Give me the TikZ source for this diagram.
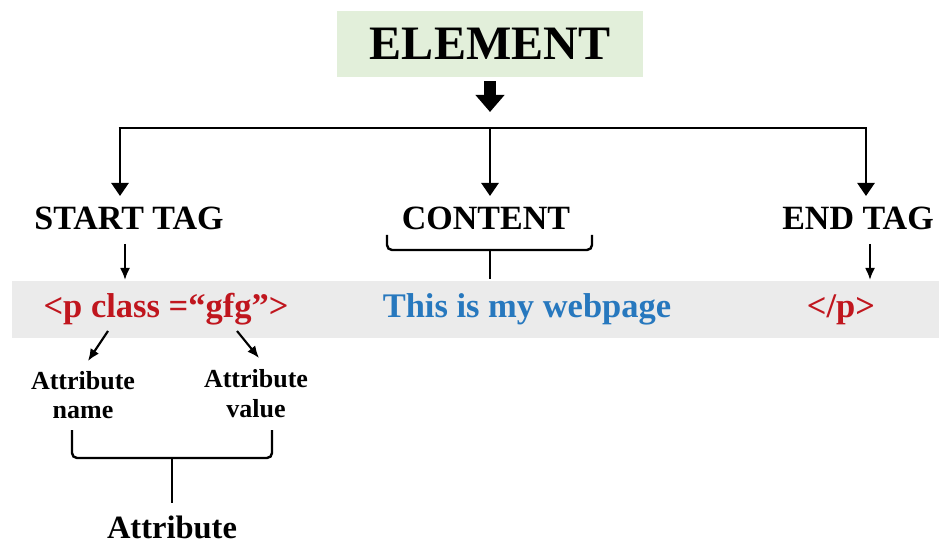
\documentclass[tikz,border=0pt]{standalone}
\usepackage{fontspec}
\setmainfont{Liberation Serif}
\usetikzlibrary{arrows.meta}
\definecolor{boxgreen}{HTML}{E2EFDA}
\definecolor{bandgray}{HTML}{EBEBEB}
\definecolor{tagred}{HTML}{C0161E}
\definecolor{textblue}{HTML}{2778BE}
\tikzset{
  fs/.style={font=\fontsize{#1}{#1}\selectfont\bfseries},
  label/.style={fs=34, inner sep=0pt, anchor=base},
  code/.style={fs=34.5, inner sep=0pt, anchor=base},
  small/.style={fs=26, inner sep=0pt, anchor=base},
  thin/.style={line width=2.1pt, -{Latex[length=12pt,width=10pt]}},
  drop/.style={line width=2.6pt, -{Triangle[length=13pt,width=17pt]}},
  link/.style={line width=2.4pt},
  brace/.style={line width=2.4pt, rounded corners=5pt},
}
\begin{document}
\begin{tikzpicture}[x=1pt,y=-1pt]
\useasboundingbox (0,0) rectangle (939,545);

% headline box
\node[fill=boxgreen, minimum width=306pt, minimum height=66pt, inner sep=0pt,
      fs=48] (elem) at (490,44) {ELEMENT};

% grey strip carrying the markup
\node[fill=bandgray, minimum width=927pt, minimum height=57pt, inner sep=0pt]
      (band) at (475.5,309.5) {};

% the three parts
\node[label] (start) at (129,230) {START TAG};
\node[label] (content) at (486,230) {CONTENT};
\node[label] (endtag) at (858,230) {END TAG};

% markup text
\node[code, text=tagred] (ptag) at (166,317) {<p class =“gfg”>};
\node[code, text=textblue] (txt) at (527,317) {This is my webpage};
\node[code, text=tagred] (ctag) at (841,317) {</p>};

% attribute labels
\node[small] (aname1) at (83,389) {Attribute};
\node[small] (aname2) at (83,418) {name};
\node[small] (avalue1) at (256,387) {Attribute};
\node[small] (avalue2) at (256,417) {value};
\node[fs=32.5, inner sep=0pt, anchor=base] (attr) at (172,538) {Attribute};

% thick arrow below the headline box
\coordinate (hub) at (490,128);
\draw[line width=12pt, -{Triangle[length=17pt,width=28pt]}]
  ([yshift=-4pt]elem.south) -- (490,112);

% distribution bar with three arrows
\coordinate (bl) at (120,128);
\coordinate (br) at (866,128);
\draw[link] ([xshift=-1.3pt]bl) -- ([xshift=1.3pt]br);
\draw[drop] (bl) -- (120,196);
\draw[drop] (hub) -- (490,196);
\draw[drop] (br) -- (866,196);

% arrows into the markup strip
\draw[thin] (125,244) -- (125,280);
\draw[thin] (870,244) -- (870,280);

% brace under CONTENT
\draw[brace] (387,235) -- (387,250) -- (592,250) -- (592,235);
\draw[link] (490,250) -- (490,279);

% arrows to the attribute labels
\draw[thin] (108,331) -- (88,361);
\draw[thin] (237,331) -- (259,358);

% brace grouping the attribute parts
\draw[brace] (72,430) -- (72,458) -- (272,458) -- (272,430);
\draw[link] (172,458) -- (172,503);
\end{tikzpicture}
\end{document}
